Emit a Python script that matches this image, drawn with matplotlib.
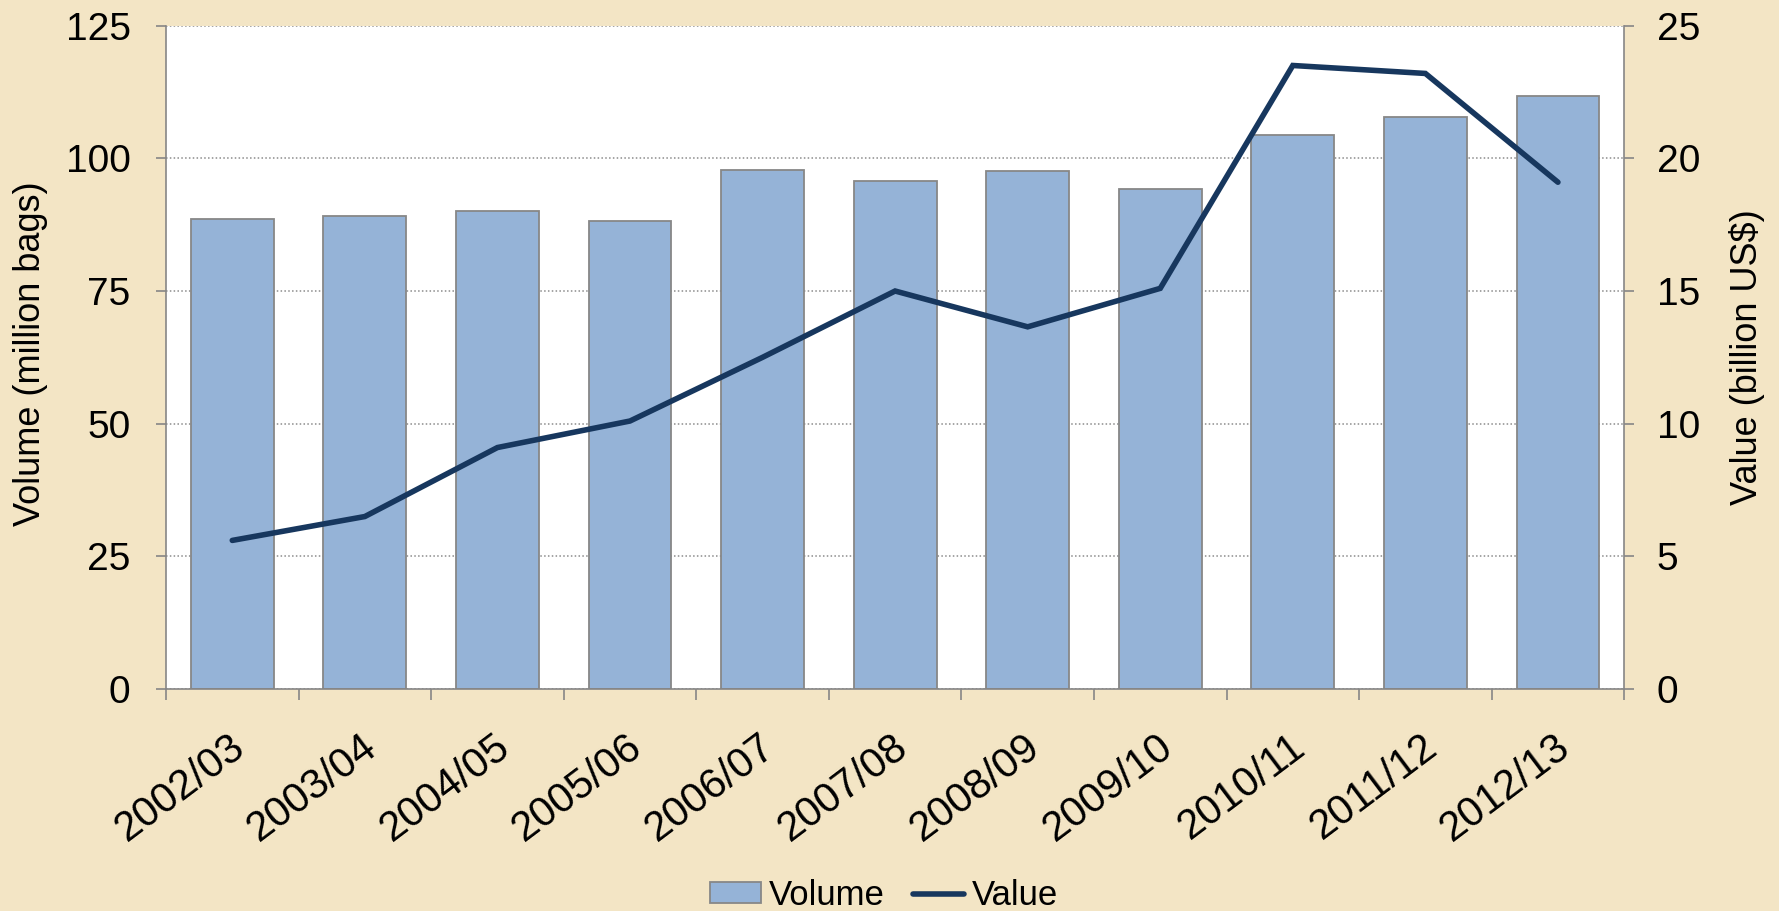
import numpy as np
import matplotlib
matplotlib.use("Agg")
from matplotlib import pyplot as plt
from matplotlib import transforms as mtransforms
from matplotlib.ticker import FixedLocator

plt.rcParams['font.family'] = ['Liberation Sans', 'DejaVu Sans']

# data
seasons = ['2002/03', '2003/04', '2004/05', '2005/06', '2006/07', '2007/08',
           '2008/09', '2009/10', '2010/11', '2011/12', '2012/13']
volume = [88.6, 89.2, 90.1, 88.1, 97.8, 95.7, 97.6, 94.3, 104.4, 107.7, 111.8]   # million bags
value = [5.6, 6.5, 9.1, 10.1, 12.5, 15.0, 13.65, 15.1, 23.5, 23.2, 19.1]        # billion US$

bg = '#F3E5C5'
bar_col = '#95B3D7'
line_col = '#17375E'
axis_col = '#868686'

fig = plt.figure(figsize=(17.79, 9.11), dpi=100, facecolor=bg)
ax = fig.add_axes([0.0933, 0.2437, 0.8197, 0.7281])
ax.set_facecolor('white')

x = np.arange(len(seasons))
bars = ax.bar(x, volume, width=0.625, color=bar_col, edgecolor='#878787',
              linewidth=1.3, label='Volume', zorder=2)

ax.set_xlim(-0.5, len(seasons) - 0.5)
ax.set_ylim(0, 125)
ax.set_yticks(np.arange(0, 126, 25))
ax.grid(axis='y', linestyle=(0, (1, 1.5)), color='#8c8c8c', linewidth=1.1)
ax.set_axisbelow(True)

ax2 = ax.twinx()
ln, = ax2.plot(x, value, color=line_col, linewidth=4.0, label='Value',
               solid_capstyle='round', solid_joinstyle='miter', zorder=3)
ax2.set_ylim(0, 25)
ax2.set_yticks(np.arange(0, 26, 5))

for a in (ax, ax2):
    for s in a.spines.values():
        s.set_color(axis_col)
        s.set_linewidth(1.2)
    a.spines['top'].set_visible(False)

ax.spines['right'].set_visible(False)
ax2.spines['left'].set_visible(False)
ax2.spines['bottom'].set_visible(False)

ax.tick_params(axis='y', direction='out', length=7.5, width=1.2, color=axis_col,
               labelsize=28, pad=18)
ax2.tick_params(axis='y', direction='out', length=7.5, width=1.2, color=axis_col,
                labelsize=28, pad=16)

# category labels at centres, tick marks at boundaries
ax.set_xticks(x)
ax.set_xticklabels(seasons)
ax.xaxis.set_minor_locator(FixedLocator(np.arange(-0.5, len(seasons), 1.0)))
ax.tick_params(axis='x', which='major', length=0, labelsize=30, pad=27)
ax.tick_params(axis='x', which='minor', direction='out', length=8, width=1.2,
               color=axis_col)
offset = mtransforms.ScaledTranslation(-4 / 100, 0, fig.dpi_scale_trans)
for lab in ax.get_xticklabels():
    lab.set_rotation(37)
    lab.set_rotation_mode('anchor')
    lab.set_ha('right')
    lab.set_va('top')
    lab.set_transform(lab.get_transform() + offset)

ax.set_ylabel('Volume (million bags)', fontsize=26)
ax.yaxis.set_label_coords(-0.081, 0.505)
ax2.set_ylabel('Value (billion US$)', fontsize=26, rotation=90)
ax2.yaxis.set_label_coords(1.072, 0.50)

fig.legend(handles=[bars, ln], labels=['Volume', 'Value'], loc='center',
           bbox_to_anchor=(0.497, 0.017), ncol=2, frameon=False, fontsize=25,
           handlelength=1.47, handleheight=0.55, handletextpad=0.23,
           columnspacing=0.8)

fig.savefig('out.png', dpi=100, facecolor=bg)
